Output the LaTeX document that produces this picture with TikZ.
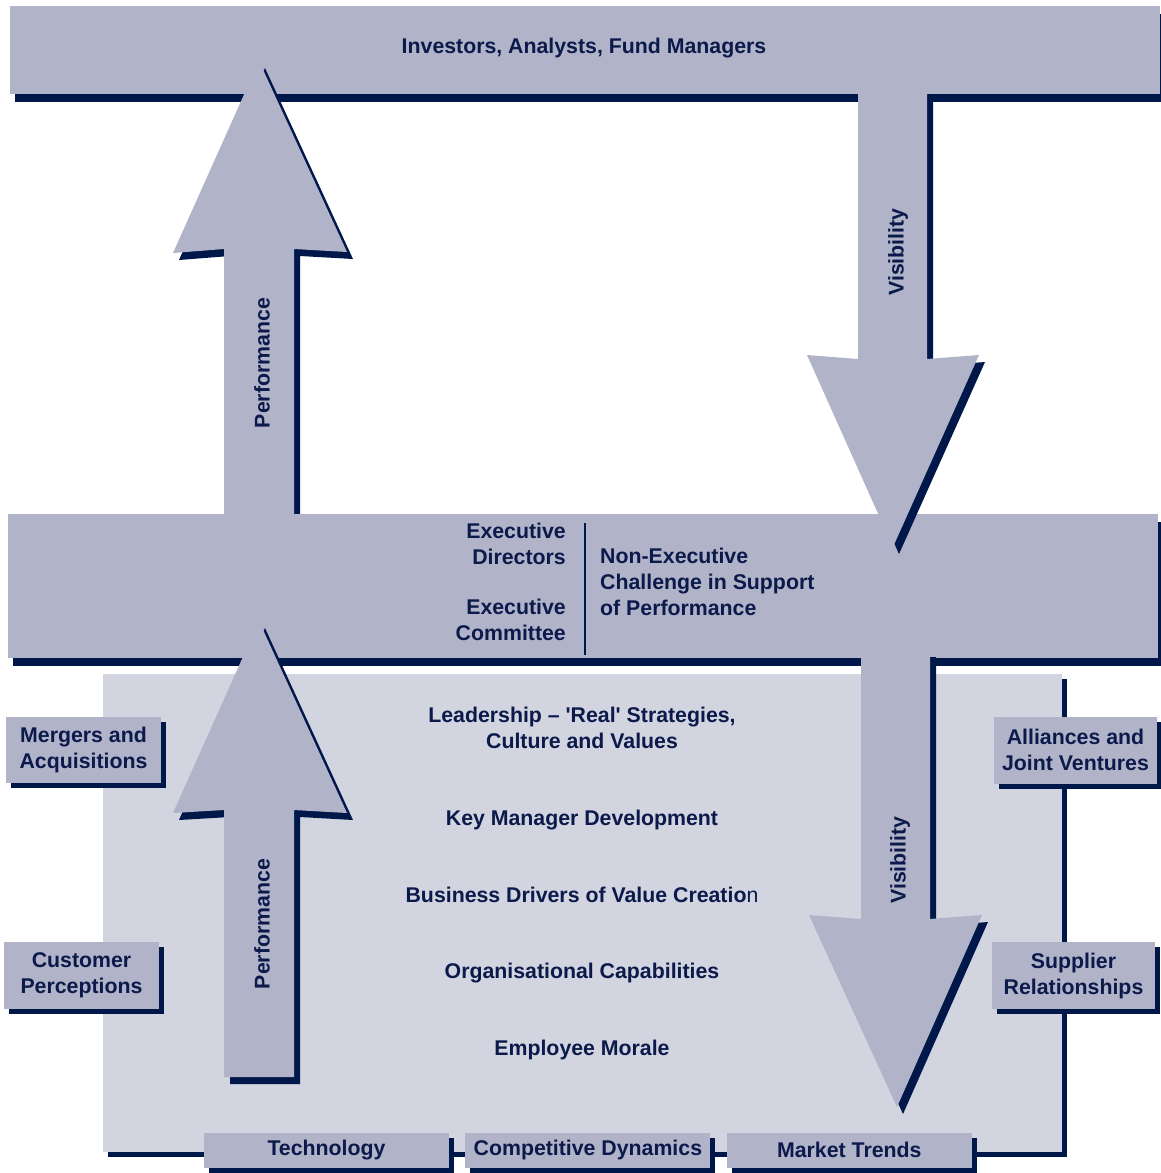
\documentclass[tikz,border=0pt]{standalone}
\usepackage{fontspec}
\setmainfont{Liberation Sans}
\usetikzlibrary{shadows, positioning}
\definecolor{barfill}{HTML}{B1B3C9}
\definecolor{panelfill}{HTML}{D2D4E0}
\definecolor{navy}{HTML}{00174A}
\definecolor{ink}{HTML}{0B1A4A}
\newcommand{\diagfont}{\bfseries\fontsize{21.3}{26}\selectfont}
\tikzset{
    bar/.style={fill=barfill, drop shadow={shadow xshift=5pt, shadow yshift=-8pt, fill=navy, opacity=1}},
    panel/.style={fill=panelfill, drop shadow={shadow xshift=5pt, shadow yshift=-5pt, fill=navy, opacity=1}},
    blockarrow/.style={fill=barfill, drop shadow={shadow xshift=6pt, shadow yshift=-7pt, fill=navy, opacity=1}},
    box/.style={rectangle, fill=barfill, inner sep=0pt, text=ink, font=\diagfont, align=center, drop shadow={shadow xshift=5pt, shadow yshift=-5pt, fill=navy, opacity=1}},
    lbl/.style={text=ink, font=\diagfont, align=center, inner sep=0pt},
    vlabel/.style={lbl, rotate=90},
}
\begin{document}
\begin{tikzpicture}[x=1pt, y=-1pt]
    \useasboundingbox (0,0) rectangle (1160,1173);

    % background panel
    \fill[panel] (103,674) rectangle (1062,1152);

    % top bar
    \fill[bar] (10,6) rectangle (1160,94);
    \node[lbl] (investors) at (584,48) {Investors, Analysts, Fund Managers};

    % performance arrow, upper
    \fill[blockarrow] (259,61) -- (347,252) -- (294,249) -- (294,560) -- (224,560)
        -- (224,249) -- (173,253) -- cycle;

    % board bar
    \fill[bar] (8,514) rectangle (1158,658);

    % visibility arrow, upper
    \fill[blockarrow] (858,87) -- (927,87) -- (927,359) -- (979,355) -- (893,547)
        -- (807,355) -- (858,359) -- cycle;

    % performance arrow, lower
    \fill[blockarrow] (259,621) -- (347,813) -- (294,810) -- (294,1077) -- (224,1077)
        -- (224,810) -- (173,813) -- cycle;

    % visibility arrow, lower
    \fill[blockarrow] (861,650) -- (930,650) -- (930,919) -- (982,915) -- (897,1107)
        -- (809,915) -- (861,919) -- cycle;

    \node[vlabel] (perfup) at (262,363) {Performance};
    \node[vlabel] (perfdown) at (262,924) {Performance};
    \node[vlabel] (visup) at (898,252) {Visibility};
    \node[vlabel] (visdown) at (900,860) {Visibility};

    % board texts
    \coordinate (divtop) at (585,523);
    \coordinate (divbot) at (585,655);
    \draw[navy, line width=2.5pt] (divtop) -- (divbot);
    \node[lbl, align=right, anchor=east] (execdir) at (566,544) {Executive\\Directors};
    \node[lbl, align=right, anchor=east] (execcom) at (566,620) {Executive\\Committee};
    \node[lbl, align=left, anchor=west] (nonexec) at (600,582) {Non-Executive\\Challenge in Support\\of Performance};

    % panel texts
    \node[lbl] (lead) at (582,728) {Leadership -- \textquotesingle Real\textquotesingle{} Strategies,\\Culture and Values};
    \node[lbl] (keymgr) at (582,820) {Key Manager Development};
    \node[lbl] (drivers) at (582,895) {Business Drivers of Value Creatio{\mdseries n}};
    \node[lbl] (orgcap) at (582,973) {Organisational Capabilities};
    \node[lbl] (morale) at (582,1050) {Employee Morale};

    % side boxes
    \node[box, minimum width=155pt, minimum height=66pt] (mergers) at (83.5,750) {Mergers and\\Acquisitions};
    \node[box, minimum width=155pt, minimum height=67pt] (customer) at (81.5,975.5) {Customer\\Perceptions};
    \node[box, minimum width=163pt, minimum height=67pt] (alliances) at (1075.5,750) {Alliances and\\Joint Ventures};
    \node[box, minimum width=163pt, minimum height=67pt] (supplier) at (1073.5,975.5) {Supplier\\Relationships};

    % bottom boxes
    \node[box, minimum width=245pt, minimum height=35pt] (tech) at (326.5,1150) {Technology};
    \node[box, minimum width=245pt, minimum height=35pt, right=16pt of tech] (compdyn) {Competitive Dynamics};
    \node[box, minimum width=245pt, minimum height=35pt, right=16pt of compdyn] (market) {Market Trends};
\end{tikzpicture}
\end{document}
